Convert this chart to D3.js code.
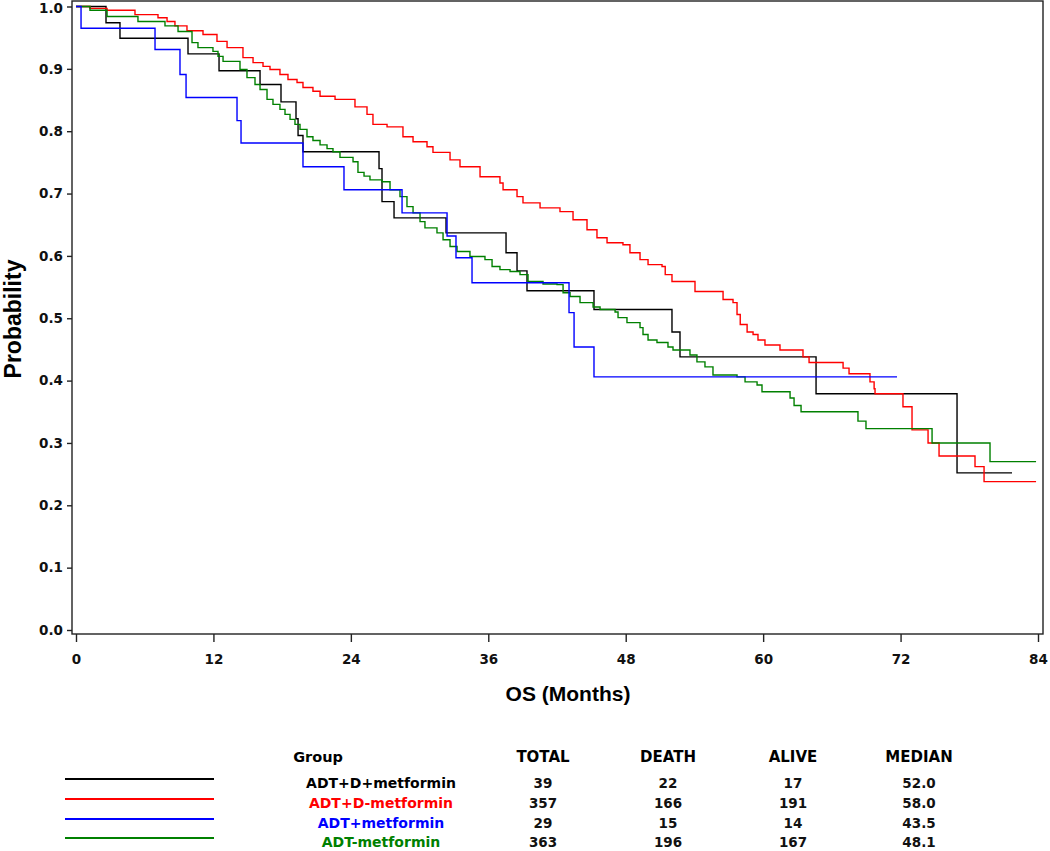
<!DOCTYPE html>
<html><head><meta charset="utf-8">
<script src="https://cdn.jsdelivr.net/npm/d3@7"></script>
<style>body{margin:0;background:#fff} svg{display:block}</style>
</head><body><svg id="c" width="1050" height="851"></svg>
<script>
// ---- table / legend data ----
const groups = ["ADT+D+metformin", "ADT+D-metformin", "ADT+metformin", "ADT-metformin"];
const groupColors = ["#000000", "#ff0000", "#0000ff", "#008000"];
const totals = [39, 357, 29, 363];
const deaths = [22, 166, 15, 196];
const alive = [17, 191, 14, 167];
const medians = ["52.0", "58.0", "43.5", "48.1"];
const tableHeaders = ["TOTAL", "DEATH", "ALIVE", "MEDIAN"];

// ---- axis ticks ----
const xTicks = [0, 12, 24, 36, 48, 60, 72, 84];
const yTicks = [0, 0.1, 0.2, 0.3, 0.4, 0.5, 0.6, 0.7, 0.8, 0.9, 1.0];

// ---- Kaplan-Meier step data (months, survival) ----
const timeBlack = [0, 2.62, 3.84, 9.78, 12.49, 16.07, 17.90, 19.21, 19.39, 19.82, 26.46, 26.72, 27.77, 32.31, 37.55, 38.51, 39.38, 45.23, 52.04, 52.74, 64.62, 76.93];
const survBlack = [1, 0.974, 0.949, 0.924, 0.897, 0.875, 0.847, 0.820, 0.793, 0.767, 0.740, 0.687, 0.661, 0.637, 0.605, 0.576, 0.544, 0.514, 0.478, 0.438, 0.379, 0.252];
const endBlack = 81.73;

const timeRed = [0, 1.22, 2.71, 5.15, 7.16, 7.95, 8.64, 9.69, 11.09, 12.31, 13.19, 14.58, 15.46, 16.33, 16.94, 17.81, 18.51, 19.30, 19.82, 20.69, 21.31, 22.62, 24.36, 25.41, 25.93, 27.16, 28.55, 29.43, 30.65, 31.17, 32.66, 33.53, 35.28, 37.02, 37.29, 38.51, 39.03, 40.52, 42.26, 43.40, 44.62, 45.49, 46.37, 47.76, 48.37, 49.25, 49.95, 51.17, 51.45, 52.04, 54.05, 56.50, 57.37, 57.72, 58.0, 58.60, 59.12, 59.55, 60.16, 61.47, 63.48, 64.01, 66.98, 67.50, 69.33, 69.69, 69.77, 72.21, 73.00, 74.40, 75.36, 78.50, 79.29];
const survRed = [1, 0.997, 0.994, 0.987, 0.982, 0.976, 0.969, 0.961, 0.955, 0.944, 0.934, 0.918, 0.910, 0.904, 0.899, 0.891, 0.883, 0.878, 0.870, 0.864, 0.856, 0.851, 0.839, 0.827, 0.811, 0.807, 0.791, 0.783, 0.775, 0.766, 0.754, 0.743, 0.727, 0.717, 0.706, 0.695, 0.685, 0.677, 0.671, 0.658, 0.642, 0.629, 0.621, 0.618, 0.605, 0.594, 0.586, 0.583, 0.570, 0.559, 0.543, 0.530, 0.525, 0.506, 0.490, 0.478, 0.474, 0.465, 0.457, 0.449, 0.438, 0.429, 0.420, 0.411, 0.398, 0.387, 0.379, 0.358, 0.321, 0.300, 0.279, 0.262, 0.238];
const endRed = 83.83;

const timeBlue = [0, 0.44, 6.90, 9.08, 9.61, 14.06, 14.41, 19.82, 23.40, 28.47, 32.40, 33.18, 34.58, 43.05, 43.49, 45.23];
const survBlue = [1, 0.965, 0.931, 0.891, 0.854, 0.817, 0.781, 0.743, 0.706, 0.669, 0.632, 0.597, 0.557, 0.509, 0.454, 0.406];
const endBlue = 71.69;

const timeGreen = [0, 1.22, 2.71, 5.41, 7.77, 8.91, 10.13, 10.65, 11.96, 12.40, 12.84, 14.32, 14.93, 15.63, 16.07, 16.68, 17.20, 17.81, 18.25, 18.69, 19.12, 19.56, 20.17, 20.69, 21.31, 21.92, 22.44, 23.05, 24.19, 24.62, 25.15, 25.67, 26.72, 27.42, 28.29, 28.90, 29.43, 30.04, 30.47, 31.52, 32.05, 32.66, 33.27, 34.40, 35.71, 36.33, 37.02, 37.90, 38.77, 39.47, 40.78, 42.00, 42.53, 43.14, 44.01, 45.15, 45.76, 47.07, 47.33, 48.11, 49.25, 49.51, 49.95, 50.73, 51.69, 52.13, 53.61, 54.22, 54.92, 55.62, 57.72, 58.42, 59.47, 59.90, 62.35, 62.70, 63.31, 68.28, 68.98, 74.75, 79.81];
const survGreen = [1, 0.994, 0.984, 0.976, 0.969, 0.960, 0.942, 0.934, 0.928, 0.920, 0.912, 0.899, 0.886, 0.875, 0.867, 0.851, 0.843, 0.835, 0.827, 0.819, 0.811, 0.803, 0.791, 0.785, 0.778, 0.772, 0.767, 0.758, 0.751, 0.734, 0.728, 0.722, 0.719, 0.706, 0.695, 0.679, 0.669, 0.655, 0.645, 0.637, 0.626, 0.615, 0.607, 0.599, 0.594, 0.583, 0.578, 0.575, 0.570, 0.559, 0.555, 0.554, 0.541, 0.535, 0.525, 0.518, 0.514, 0.510, 0.501, 0.493, 0.485, 0.474, 0.465, 0.461, 0.454, 0.449, 0.441, 0.430, 0.422, 0.409, 0.406, 0.398, 0.393, 0.382, 0.372, 0.360, 0.350, 0.335, 0.323, 0.300, 0.270];
const endGreen = 83.83;

// ---- drawing ----
const svg = d3.select("#c");
const FONT = "'DejaVu Sans', Verdana, sans-serif";
const x = d3.scaleLinear().domain([0, 84]).range([76, 1038]);
const y = d3.scaleLinear().domain([0, 1]).range([630, 6.5]);

// frame
svg.append("rect").attr("x", 72).attr("y", 1).attr("width", 971).attr("height", 633)
  .attr("fill", "none").attr("stroke", "#222").attr("stroke-width", 1.4);

// axes
const yAxis = svg.append("g").attr("transform", "translate(72,0)")
  .call(d3.axisLeft(y).tickValues(yTicks).tickFormat(d3.format(".1f")).tickSize(5).tickPadding(4));
const xAxis = svg.append("g").attr("transform", "translate(0,634)")
  .call(d3.axisBottom(x).tickValues(xTicks).tickFormat(d3.format("d")).tickSize(8).tickPadding(12));
[yAxis, xAxis].forEach(g => {
  g.select(".domain").remove();
  g.selectAll("line").attr("stroke", "#222").attr("stroke-width", 1.4);
  g.selectAll("text").attr("font-family", FONT).attr("font-weight", "bold")
    .attr("font-size", "13.5px").attr("fill", "#111");
});
// keep the top label inside the page
yAxis.selectAll(".tick").filter(d => d === 1).select("text").attr("dy", "0.45em");

// axis titles
svg.append("text").attr("x", 568).attr("y", 701).attr("text-anchor", "middle")
  .attr("font-family", "'Liberation Sans', Arial, sans-serif").attr("font-weight", "bold")
  .attr("font-size", "21px").text("OS (Months)");
svg.append("text").attr("transform", "translate(21,319) rotate(-90)").attr("text-anchor", "middle")
  .attr("font-family", "'Liberation Sans', Arial, sans-serif").attr("font-weight", "bold")
  .attr("font-size", "23px").text("Probability");

// curves
const series = [
  {t: timeBlack, s: survBlack, end: endBlack, c: groupColors[0]},
  {t: timeRed, s: survRed, end: endRed, c: groupColors[1]},
  {t: timeGreen, s: survGreen, end: endGreen, c: groupColors[3]},
  {t: timeBlue, s: survBlue, end: endBlue, c: groupColors[2]}
];
const line = d3.line().x(d => x(d[0])).y(d => y(d[1])).curve(d3.curveStepAfter);
series.forEach(sr => {
  const pts = sr.t.map((t, i) => [t, sr.s[i]]);
  pts.push([sr.end, sr.s[sr.s.length - 1]]);
  svg.append("path").datum(pts).attr("d", line).attr("fill", "none")
    .attr("stroke", sr.c).attr("stroke-width", 1.4);
});

// legend table
const rowY = [783, 803, 823, 842];
svg.append("text").attr("x", 318).attr("y", 762).attr("text-anchor", "middle")
  .attr("font-family", FONT).attr("font-weight", "bold").attr("font-size", "14.5px").text("Group");
const colX = [543, 668, 793, 919];
tableHeaders.forEach((h, i) => {
  svg.append("text").attr("x", colX[i]).attr("y", 762).attr("text-anchor", "middle")
    .attr("font-family", FONT).attr("font-weight", "bold").attr("font-size", "15px").text(h);
});
groups.forEach((g, i) => {
  svg.append("line").attr("x1", 65).attr("x2", 214).attr("y1", rowY[i] - 4).attr("y2", rowY[i] - 4)
    .attr("stroke", groupColors[i]).attr("stroke-width", 2.2);
  svg.append("text").attr("x", 381).attr("y", rowY[i]).attr("dy", "0.36em").attr("text-anchor", "middle")
    .attr("font-family", FONT).attr("font-weight", "bold").attr("font-size", "14px")
    .attr("fill", groupColors[i]).text(g);
  [totals[i], deaths[i], alive[i], medians[i]].forEach((v, j) => {
    svg.append("text").attr("x", colX[j]).attr("y", rowY[i]).attr("dy", "0.36em").attr("text-anchor", "middle")
      .attr("font-family", FONT).attr("font-weight", "bold").attr("font-size", "13.5px")
      .attr("fill", "#111").text(v);
  });
});
</script></body></html>
